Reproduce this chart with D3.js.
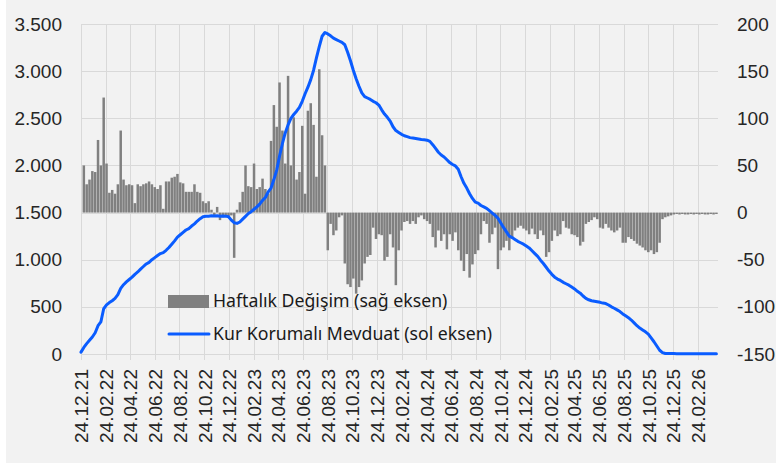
<!DOCTYPE html>
<html>
<head>
<meta charset="utf-8">
<title>Kur Korumalı Mevduat</title>
<script src="https://d3js.org/d3.v7.min.js"></script>
<style>
  body { margin: 0; background: #ffffff; }
  svg { display: block; }
</style>
</head>
<body>
<div id="chart"></div>
<script>
// weekly observations, first one on 24.12.2021
var firstWeek = "24.12.21";

// Kur Korumalı Mevduat, left axis
var kkmLevel = [
    20, 70, 110, 145, 180, 225, 300, 340, 480, 520,
    545, 565, 590, 630, 696, 735, 765, 790, 815, 845,
    870, 900, 928, 955, 972, 1000, 1022, 1045, 1065, 1075,
    1100, 1130, 1165, 1200, 1240, 1265, 1290, 1315, 1330, 1357,
    1380, 1410, 1435, 1455, 1460, 1462, 1466, 1464, 1466, 1462,
    1464, 1462, 1455, 1420, 1392, 1385, 1400, 1430, 1460, 1490,
    1510, 1535, 1560, 1590, 1630, 1660, 1720, 1760, 1850, 1950,
    2100, 2230, 2345, 2430, 2500, 2540, 2575, 2615, 2680, 2760,
    2830, 2910, 3010, 3140, 3260, 3370, 3410, 3395, 3375, 3350,
    3335, 3320, 3305, 3280, 3200, 3110, 3010, 2920, 2840, 2770,
    2730, 2715, 2700, 2680, 2665, 2640, 2590, 2545, 2510, 2470,
    2410, 2370, 2350, 2330, 2315, 2305, 2295, 2290, 2285, 2280,
    2275, 2272, 2268, 2255, 2220, 2180, 2140, 2110, 2090, 2060,
    2030, 2010, 1995, 1960, 1880, 1810, 1760, 1700, 1650, 1610,
    1600, 1575, 1560, 1545, 1520, 1495, 1470, 1440, 1390, 1340,
    1295, 1250, 1235, 1215, 1195, 1180, 1165, 1145, 1125, 1095,
    1065, 1035, 995, 960, 920, 880, 845, 815, 795, 780,
    760, 745, 730, 710, 690, 665, 645, 615, 590, 575,
    565, 560, 555, 548, 540, 535, 520, 500, 485, 468,
    450, 425, 405, 385, 360, 330, 300, 275, 255, 235,
    210, 170, 130, 85, 40, 15, 5, 5, 4, 4,
    3, 3, 3, 3, 3, 3, 3, 3, 3, 3,
    3, 3, 3, 3, 3
];

// Haftalık Değişim, right axis
var weeklyChange = [
    0, 50, 30, 35, 44, 43, 77, 50, 122, 52,
    21, 24, 20, 30, 87, 35, 29, 30, 29, 10,
    30, 28, 30, 31, 33, 30, 27, 25, 29, 4,
    33, 33, 37, 38, 41, 32, 31, 22, 22, 22,
    30, 22, 21, 12, 10, 12, 3, -3, 6, -8,
    -5, -3, -4, -3, -48, 3, 11, 22, 50, 28,
    27, 52, 25, 27, 36, 25, 20, 76, 114, 91,
    138, 87, 52, 145, 50, 101, 35, 43, 92, 20,
    108, 116, 93, 38, 152, 82, 50, -40, -12, -24,
    -19, -5, -3, -54, -76, -79, -70, -86, -79, -72,
    -54, -47, -45, -16, -28, -23, -24, -51, -47, -23,
    -37, -77, -40, -19, -10, -9, -12, -9, -12, -5,
    -3, -7, -9, -12, -26, -37, -19, -30, -23, -39,
    -23, -30, -21, -40, -51, -62, -44, -69, -55, -44,
    -40, -23, -9, -12, -32, -23, -16, -60, -40, -37,
    -30, -40, -26, -19, -16, -14, -17, -19, -23, -17,
    -23, -28, -19, -24, -47, -42, -30, -19, -25, -23,
    -9, -16, -17, -23, -24, -26, -35, -31, -12, -10,
    -8, -5, -7, -16, -17, -12, -16, -19, -21, -19,
    -16, -32, -32, -26, -28, -30, -33, -35, -37, -40,
    -42, -40, -44, -42, -32, -7, -5, -4, -3, -2,
    -1.5, -2, -1.5, -2, -2, -1.5, -2, -1.5, -2, -1.5,
    -2, -2, -1.5, -2, -1.5
];

var dateLabels = [
    "24.12.21", "24.02.22", "24.04.22", "24.06.22", "24.08.22", "24.10.22",
    "24.12.22", "24.02.23", "24.04.23", "24.06.23", "24.08.23", "24.10.23",
    "24.12.23", "24.02.24", "24.04.24", "24.06.24", "24.08.24", "24.10.24",
    "24.12.24", "24.02.25", "24.04.25", "24.06.25", "24.08.25", "24.10.25",
    "24.12.25", "24.02.26"
];
var leftTicks = [0, 500, 1000, 1500, 2000, 2500, 3000, 3500];
var rightTicks = [-150, -100, -50, 0, 50, 100, 150, 200];

var legendBars = "Haftalık Değişim (sağ eksen)";
var legendLine = "Kur Korumalı Mevduat (sol eksen)";

var W = 776, H = 465;
var plotLeft = 81, plotRight = 718, plotTop = 24, plotBottom = 354;

var parse = d3.timeParse("%d.%m.%y");
var start = parse(firstWeek);
var weeks = kkmLevel.map(function(d, i) { return d3.timeDay.offset(start, 7 * i); });
var tickDates = dateLabels.map(parse);

var trLocale = d3.formatLocale({decimal: ",", thousands: ".", grouping: [3], currency: ["", " TL"], minus: "-"});

var svg = d3.select("#chart").append("svg")
    .attr("width", W)
    .attr("height", H);

svg.append("rect")
    .attr("x", 6).attr("y", 0)
    .attr("width", W - 6).attr("height", 463)
    .attr("fill", "#f2f2f2");

var x = d3.scaleTime()
    .domain([start, parse("14.04.26")])
    .range([plotLeft, plotRight]);
var yL = d3.scaleLinear().domain([0, 3500]).range([plotBottom, plotTop]);
var yR = d3.scaleLinear().domain([-150, 200]).range([plotBottom, plotTop]);

// grid
svg.append("g")
    .selectAll("line")
    .data(leftTicks)
    .enter().append("line")
        .attr("x1", plotLeft).attr("x2", plotRight)
        .attr("y1", function(d) { return Math.round(yL(d)) + 0.5; })
        .attr("y2", function(d) { return Math.round(yL(d)) + 0.5; })
        .attr("stroke", "#d9d9d9")
        .attr("stroke-width", 1);
svg.append("g")
    .selectAll("line")
    .data(tickDates)
    .enter().append("line")
        .attr("x1", function(d) { return Math.round(x(d)) + 0.5; })
        .attr("x2", function(d) { return Math.round(x(d)) + 0.5; })
        .attr("y1", plotTop).attr("y2", plotBottom + 6)
        .attr("stroke", "#d9d9d9")
        .attr("stroke-width", 1);

// bars
var barW = 2.5;
svg.append("g")
    .selectAll("rect")
    .data(weeklyChange)
    .enter().append("rect")
        .attr("x", function(d, i) { return x(weeks[i]) - barW / 2; })
        .attr("y", function(d) { return yR(Math.max(0, d)); })
        .attr("width", barW)
        .attr("height", function(d) { return Math.abs(yR(d) - yR(0)); })
        .attr("fill", "#808080");

// line
var line = d3.line()
    .x(function(d, i) { return x(weeks[i]); })
    .y(function(d) { return yL(d); });
svg.append("path")
    .datum(kkmLevel)
    .attr("d", line)
    .attr("fill", "none")
    .attr("stroke", "#0a5cff")
    .attr("stroke-width", 3)
    .attr("stroke-linejoin", "round")
    .attr("stroke-linecap", "round");

// axes
var tickFont = "'Liberation Sans', Arial, sans-serif";

var gl = svg.append("g")
    .attr("transform", "translate(" + plotLeft + ",0)")
    .call(d3.axisLeft(yL).tickValues(leftTicks).tickSize(0).tickPadding(19).tickFormat(trLocale.format(",")));
var gr = svg.append("g")
    .attr("transform", "translate(" + plotRight + ",0)")
    .call(d3.axisRight(yR).tickValues(rightTicks).tickSize(0).tickPadding(19).tickFormat(trLocale.format("d")));
var gx = svg.append("g")
    .attr("transform", "translate(0," + plotBottom + ")")
    .call(d3.axisBottom(x).tickValues(tickDates).tickSize(0)
        .tickFormat(function(d, i) { return dateLabels[i]; }));

gx.selectAll("text")
    .attr("transform", "rotate(-90)")
    .attr("x", -15)
    .attr("y", 0)
    .attr("dy", "0.36em")
    .style("text-anchor", "end");

[gl, gr, gx].forEach(function(g) {
    g.select(".domain").remove();
    g.selectAll("text")
        .style("font-family", tickFont)
        .style("font-size", "19px")
        .attr("fill", "#262626");
});

// legend
var legendFont = "'Noto Sans', 'Open Sans', sans-serif";
svg.append("rect")
    .attr("x", 168).attr("y", 295)
    .attr("width", 41).attr("height", 13)
    .attr("fill", "#808080");
svg.append("line")
    .attr("x1", 169).attr("x2", 209)
    .attr("y1", 334).attr("y2", 334)
    .attr("stroke", "#0a5cff")
    .attr("stroke-width", 3)
    .attr("stroke-linecap", "round");
svg.append("text")
    .attr("x", 213).attr("y", 301)
    .attr("dy", "0.35em")
    .style("font-family", legendFont)
    .style("font-size", "17.7px")
    .attr("fill", "#1a1a1a")
    .text(legendBars);
svg.append("text")
    .attr("x", 213).attr("y", 334)
    .attr("dy", "0.35em")
    .style("font-family", legendFont)
    .style("font-size", "17.7px")
    .attr("fill", "#1a1a1a")
    .text(legendLine);
</script>
</body>
</html>
